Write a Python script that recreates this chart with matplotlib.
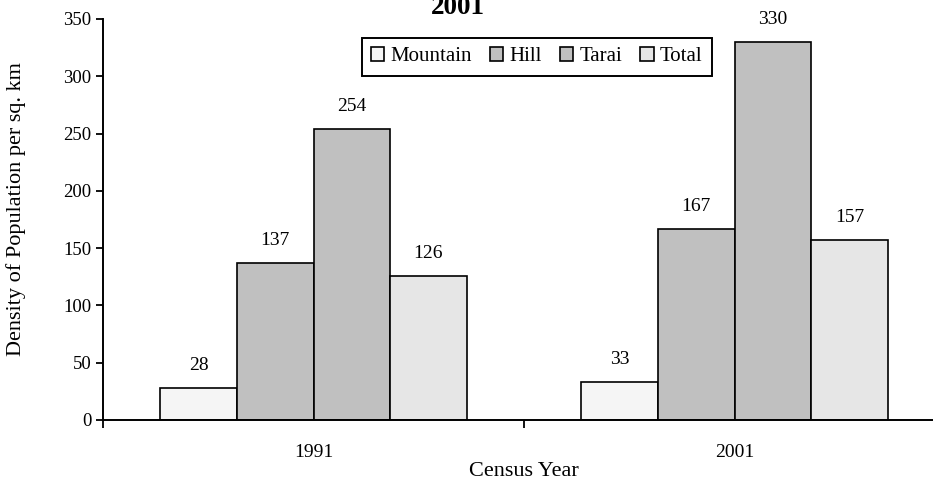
import numpy as np
import matplotlib.pyplot as plt

years = ["1991", "2001"]
series = ["Mountain", "Hill", "Tarai", "Total"]
mountain = [28, 33]
hill = [137, 167]
tarai = [254, 330]
total = [126, 157]
colors = ["#f5f5f5", "#c0c0c0", "#c0c0c0", "#e6e6e6"]

plt.rcParams.update({'font.family': 'Liberation Serif', 'font.size': 13.5})

fig = plt.figure(figsize=(9.33, 4.79), dpi=100)
ax = fig.add_axes([0.1104, 0.1232, 0.9025, 0.8372])

x = np.arange(len(years))
w = 0.182
values = [mountain, hill, tarai, total]
for i, (name, vals, c) in enumerate(zip(series, values, colors)):
    bars = ax.bar(x + (i - 1.5) * w, vals, w, color=c, edgecolor="black",
                  linewidth=1.2, label=name)
    for b, v in zip(bars, vals):
        ax.annotate(str(v), (b.get_x() + b.get_width() / 2, v),
                    xytext=(0, 13), textcoords="offset points",
                    ha="center", va="baseline", fontsize=14)

ax.set_xlim(-0.5, 1.5)
ax.set_ylim(0, 350)
ax.set_yticks(range(0, 351, 50))
ax.set_xticks([-0.5, 0.5, 1.5])
ax.set_xticklabels(["", "", ""])
ax.set_xticks(x, minor=True)
ax.set_xticklabels(years, minor=True, fontsize=14)
ax.tick_params(axis="x", which="minor", length=0, pad=17)
ax.tick_params(axis="x", which="major", length=6, width=1.3, direction="out")
ax.tick_params(axis="y", length=5, width=1.3, direction="out", labelsize=13.5)

for s in ["top", "right"]:
    ax.spines[s].set_visible(False)
for s in ["left", "bottom"]:
    ax.spines[s].set_linewidth(1.4)

ax.set_ylabel("Density of Population per sq. km", fontsize=16)
ax.yaxis.set_label_coords(-0.0915, 0.527)
ax.set_xlabel("Census Year", fontsize=16)
ax.xaxis.set_label_coords(0.5, -0.104)

leg = ax.legend(loc="upper center", bbox_to_anchor=(0.515, 0.953), ncol=4,
                fontsize=15, frameon=True, fancybox=False, handlelength=0.65,
                handleheight=0.65, handletextpad=0.3, columnspacing=0.85,
                borderpad=0.45, borderaxespad=0, edgecolor="black",
                framealpha=1)
leg.get_frame().set_linewidth(1.4)

fig.text(0.491, 0.971, "2001", fontsize=19.5, fontweight="bold",
         ha="center", va="baseline")

fig.savefig("out.png", dpi=100)
